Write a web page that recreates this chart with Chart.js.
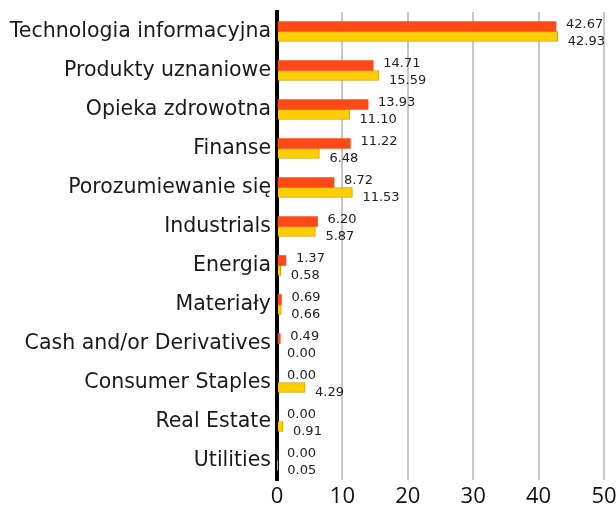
<!DOCTYPE html>
<html>
<head>
<meta charset="utf-8">
<script src="https://cdn.jsdelivr.net/npm/chart.js@4/dist/chart.umd.min.js"></script>
<style>
  html, body { margin: 0; padding: 0; background: #fff; }
  #wrap { width: 616px; height: 513px; position: relative; }
</style>
</head>
<body>
<div id="wrap"><canvas id="c"></canvas></div>
<script>
const categories = [
  "Technologia informacyjna",
  "Produkty uznaniowe",
  "Opieka zdrowotna",
  "Finanse",
  "Porozumiewanie się",
  "Industrials",
  "Energia",
  "Materiały",
  "Cash and/or Derivatives",
  "Consumer Staples",
  "Real Estate",
  "Utilities"
];
const seriesFund = [42.67, 14.71, 13.93, 11.22, 8.72, 6.20, 1.37, 0.69, 0.49, 0.00, 0.00, 0.00];
const seriesBench = [42.93, 15.59, 11.10, 6.48, 11.53, 5.87, 0.58, 0.66, 0.00, 4.29, 0.91, 0.05];
const xTicks = [0, 10, 20, 30, 40, 50];

const FONT = "'Open Sans', 'DejaVu Sans', sans-serif";
const FONT_W = "'DejaVu Sans', sans-serif";

const valueLabels = {
  id: 'valueLabels',
  afterDatasetsDraw(chart) {
    const ctx = chart.ctx;
    ctx.save();
    ctx.font = "13px " + FONT_W;
    ctx.fillStyle = "#222";
    ctx.textAlign = "left";
    ctx.textBaseline = "middle";
    chart.data.datasets.forEach((ds, di) => {
      const meta = chart.getDatasetMeta(di);
      meta.data.forEach((bar, i) => {
        const v = ds.data[i];
        const dy = di === 0 ? -2 : 5;
        ctx.fillText(v.toFixed(2), bar.x + 10, bar.y + dy);
      });
    });
    ctx.restore();
  }
};

new Chart(document.getElementById('c'), {
  type: 'bar',
  data: {
    labels: categories,
    datasets: [
      {
        label: 'Fund',
        data: seriesFund,
        backgroundColor: '#FF4A17',
        borderWidth: 0,
        barThickness: 10
      },
      {
        label: 'Benchmark',
        data: seriesBench,
        backgroundColor: '#FFCE00',
        borderColor: '#C9A000',
        borderWidth: 1,
        barThickness: 10
      }
    ]
  },
  options: {
    indexAxis: 'y',
    responsive: true,
    maintainAspectRatio: false,
    animation: false,
    layout: { padding: { top: 12, right: 12, left: 0, bottom: 0 } },
    plugins: {
      legend: { display: false },
      tooltip: { enabled: false }
    },
    scales: {
      x: {
        min: 0,
        max: 50,
        afterBuildTicks(scale) { scale.ticks = xTicks.map(v => ({ value: v })); },
        grid: {
          color: (c) => c.tick && c.tick.value === 0 ? 'rgba(0,0,0,0)' : '#C8C8C8',
          lineWidth: 2,
          drawTicks: false
        },
        border: { display: false },
        ticks: {
          color: '#111',
          font: { family: FONT, size: 22 },
          padding: 4,
          maxRotation: 0
        },
        afterFit(scale) { scale.height = 33; scale.paddingLeft = 0; scale.paddingRight = 0; }
      },
      y: {
        grid: { display: false, drawTicks: false },
        border: { display: true, color: '#000', width: 4 },
        ticks: {
          color: '#1a1a1a',
          font: { family: FONT_W, size: 20.5 },
          padding: 6,
          autoSkip: false
        },
        afterFit(scale) { scale.width = 277; scale.paddingTop = 0; scale.paddingBottom = 0; }
      }
    }
  },
  plugins: [valueLabels]
});
</script>
</body>
</html>
